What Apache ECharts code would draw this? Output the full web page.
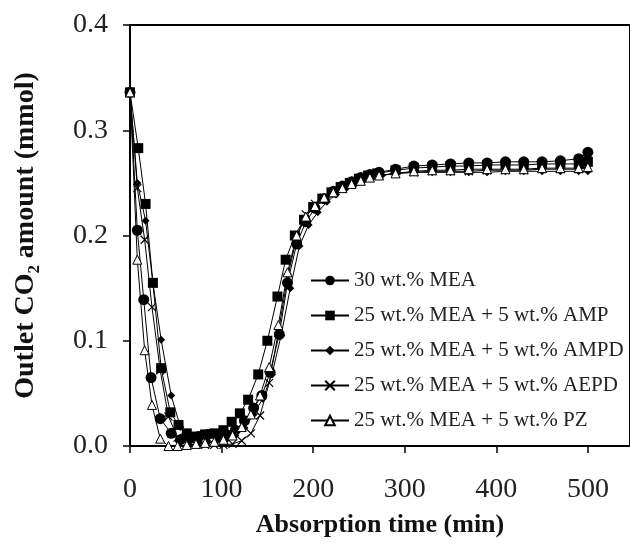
<!DOCTYPE html>
<html>
<head>
<meta charset="utf-8">
<script src="https://cdn.jsdelivr.net/npm/echarts@6/dist/echarts.min.js"></script>
<style>
  html, body { margin: 0; padding: 0; background: #fff; }
  #chart { width: 630px; height: 554px; }
</style>
</head>
<body>
<div id="chart"></div>
<script>
// 轴刻度
const xTicks = [0, 100, 200, 300, 400, 500];
const yTicks = [0.0, 0.1, 0.2, 0.3, 0.4];

// 图例名称
const names = [
  '30 wt.% MEA',
  '25 wt.% MEA + 5 wt.% AMP',
  '25 wt.% MEA + 5 wt.% AMPD',
  '25 wt.% MEA + 5 wt.% AEPD',
  '25 wt.% MEA + 5 wt.% PZ'
];

// 30 wt.% MEA
const tMEA = [0, 8, 15, 23, 33, 45, 55, 65, 75, 85, 95, 105, 115, 125, 135, 144, 153, 163, 172, 182, 192, 202, 212, 222, 232, 242, 252, 262, 272, 290, 310, 330, 350, 370, 390, 410, 430, 450, 470, 490, 500];
const vMEA = [0.336, 0.205, 0.139, 0.065, 0.026, 0.012, 0.006, 0.007, 0.009, 0.011, 0.010, 0.011, 0.015, 0.024, 0.036, 0.048, 0.070, 0.106, 0.155, 0.192, 0.213, 0.226, 0.235, 0.242, 0.247, 0.251, 0.255, 0.258, 0.260, 0.263, 0.266, 0.267, 0.268, 0.269, 0.269, 0.270, 0.270, 0.270, 0.271, 0.273, 0.279];

// 25 wt.% MEA + 5 wt.% AMP
const tAMP = [0, 9, 17, 25, 34, 44, 53, 62, 72, 82, 92, 102, 111, 120, 129, 140, 150, 161, 170, 180, 190, 200, 210, 220, 230, 240, 250, 260, 270, 290, 310, 330, 350, 370, 390, 410, 430, 450, 470, 490, 500];
const vAMP = [0.336, 0.283, 0.230, 0.155, 0.074, 0.032, 0.020, 0.012, 0.009, 0.011, 0.012, 0.015, 0.023, 0.031, 0.044, 0.068, 0.100, 0.142, 0.177, 0.200, 0.215, 0.227, 0.235, 0.241, 0.246, 0.250, 0.254, 0.257, 0.259, 0.262, 0.264, 0.265, 0.266, 0.266, 0.267, 0.267, 0.267, 0.268, 0.268, 0.268, 0.270];

// 25 wt.% MEA + 5 wt.% AMPD
const tAMPD = [0, 8, 17, 25, 34, 45, 55, 65, 75, 85, 95, 105, 115, 125, 135, 145, 155, 165, 175, 185, 195, 205, 215, 225, 235, 245, 255, 265, 275, 290, 310, 330, 350, 370, 390, 410, 430, 450, 470, 490, 500];
const vAMPD = [0.336, 0.250, 0.214, 0.155, 0.101, 0.048, 0.018, 0.005, 0.003, 0.004, 0.005, 0.006, 0.010, 0.017, 0.030, 0.045, 0.068, 0.105, 0.150, 0.190, 0.210, 0.222, 0.232, 0.239, 0.244, 0.248, 0.252, 0.255, 0.257, 0.259, 0.260, 0.260, 0.260, 0.260, 0.260, 0.261, 0.261, 0.261, 0.261, 0.261, 0.261];

// 25 wt.% MEA + 5 wt.% AEPD
const tAEPD = [0, 8, 16, 24, 33, 42, 52, 62, 72, 82, 92, 102, 112, 122, 132, 142, 152, 162, 172, 182, 192, 202, 212, 222, 232, 242, 252, 262, 272, 290, 310, 330, 350, 370, 390, 410, 430, 450, 470, 490, 500];
const vAEPD = [0.336, 0.245, 0.196, 0.132, 0.072, 0.028, 0.008, 0.002, 0.001, 0.001, 0.001, 0.001, 0.002, 0.005, 0.012, 0.029, 0.060, 0.108, 0.160, 0.198, 0.220, 0.230, 0.236, 0.241, 0.245, 0.249, 0.252, 0.255, 0.257, 0.259, 0.260, 0.261, 0.261, 0.261, 0.262, 0.262, 0.262, 0.263, 0.263, 0.263, 0.264];

// 25 wt.% MEA + 5 wt.% PZ
const tPZ = [0, 8, 16, 24, 33, 42, 52, 62, 72, 82, 92, 102, 112, 122, 132, 142, 152, 162, 172, 182, 192, 202, 212, 222, 232, 242, 252, 262, 272, 290, 310, 330, 350, 370, 390, 410, 430, 450, 470, 490, 500];
const vPZ = [0.336, 0.177, 0.091, 0.039, 0.007, 0.000, 0.000, 0.001, 0.002, 0.003, 0.004, 0.006, 0.010, 0.018, 0.030, 0.048, 0.075, 0.115, 0.165, 0.200, 0.218, 0.228, 0.236, 0.241, 0.245, 0.249, 0.252, 0.255, 0.257, 0.259, 0.261, 0.262, 0.262, 0.263, 0.263, 0.263, 0.263, 0.264, 0.264, 0.264, 0.265];

const zip = (t, v) => t.map((x, i) => [x, v[i]]);

const serif = 'Liberation Serif';

// 折线 + 标记的公共样式
const makeSeries = (name, t, v, symbol, size, itemStyle) => ({
  name: name,
  type: 'line',
  data: zip(t, v),
  symbol: symbol,
  symbolSize: size,
  lineStyle: { color: '#000', width: 1 },
  itemStyle: itemStyle,
  emphasis: { disabled: true }
});

const myChart = echarts.init(document.getElementById('chart'));

const option = {
  animation: false,
  backgroundColor: '#fff',
  grid: {
    left: 130, top: 25, width: 505, height: 421,
    show: true, borderColor: '#000', borderWidth: 2
  },
  legend: {
    orient: 'vertical',
    left: 305, top: 265,
    itemWidth: 38, itemHeight: 12, itemGap: 14,
    data: names,
    textStyle: { fontFamily: serif, fontSize: 21, color: '#222' }
  },
  xAxis: {
    type: 'value',
    min: 0, max: 546, interval: 100,
    name: 'Absorption time (min)',
    nameLocation: 'middle', nameGap: 66,
    nameTextStyle: { fontFamily: serif, fontSize: 26, fontWeight: 'bold', color: '#111' },
    axisLine: { lineStyle: { color: '#000', width: 2 } },
    axisTick: { inside: false, length: 7, lineStyle: { color: '#000', width: 1.5 } },
    axisLabel: {
      margin: 30, showMaxLabel: false,
      fontFamily: serif, fontSize: 28, color: '#222',
      formatter: v => (xTicks.includes(v) ? String(v) : '')
    },
    splitLine: { show: false }
  },
  yAxis: {
    type: 'value',
    min: 0, max: 0.4, interval: 0.1,
    name: 'Outlet CO\u2082 amount (mmol)',
    nameLocation: 'middle', nameGap: 90, nameRotate: 90,
    nameTextStyle: { fontFamily: serif, fontSize: 28, fontWeight: 'bold', color: '#111' },
    axisLine: { lineStyle: { color: '#000', width: 2 } },
    axisTick: { inside: false, length: 7, lineStyle: { color: '#000', width: 1.5 } },
    axisLabel: {
      margin: 22,
      fontFamily: serif, fontSize: 28, color: '#222',
      formatter: v => yTicks.find(y => Math.abs(y - v) < 1e-9).toFixed(1)
    },
    splitLine: { show: false }
  },
  series: [
    makeSeries(names[0], tMEA, vMEA, 'circle', 11, { color: '#000' }),
    makeSeries(names[1], tAMP, vAMP, 'rect', 10, { color: '#000' }),
    makeSeries(names[2], tAMPD, vAMPD, 'diamond', 8, { color: '#000' }),
    makeSeries(names[3], tAEPD, vAEPD, 'path://M0,0L10,10M10,0L0,10', 8,
      { color: '#000', borderColor: '#000', borderWidth: 1.2 }),
    makeSeries(names[4], tPZ, vPZ, 'triangle', 9,
      { color: '#fff', borderColor: '#000', borderWidth: 1 })
  ]
};

myChart.setOption(option);
</script>
</body>
</html>
